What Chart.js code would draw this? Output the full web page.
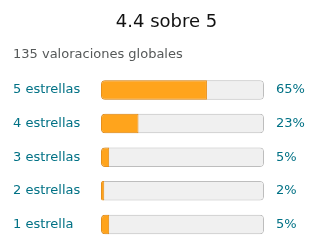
<!DOCTYPE html>
<html>
<head>
<meta charset="utf-8">
<script src="https://cdn.jsdelivr.net/npm/chart.js@4/dist/chart.umd.min.js"></script>
<style>
  html, body { margin: 0; padding: 0; background: #fff; }
  #wrap { width: 320px; height: 252px; }
</style>
</head>
<body>
<div id="wrap"><canvas id="ratings"></canvas></div>
<script>
const starLabels = ['5 estrellas', '4 estrellas', '3 estrellas', '2 estrellas', '1 estrella'];
const percents = [65, 23, 5, 2, 5];
const trackValues = [100, 100, 100, 100, 100];
const percentLabels = percents.map(p => p + '%');

const linkColor = '#007185';

const ctx = document.getElementById('ratings').getContext('2d');

const ratingsChart = new Chart(ctx, {
  type: 'bar',
  data: {
    labels: starLabels,
    datasets: [
      {
        label: 'Porcentaje',
        data: percents,
        backgroundColor: '#ffa41c',
        borderColor: '#e8901a',
        borderWidth: 1,
        borderSkipped: false,
        borderRadius: { topLeft: 4, bottomLeft: 4, topRight: 0, bottomRight: 0 },
        grouped: false,
        order: 1,
        barPercentage: 0.58,
        categoryPercentage: 1
      },
      {
        label: 'Total',
        data: trackValues,
        backgroundColor: '#f0f0f0',
        borderColor: '#bdbdbd',
        borderWidth: 1,
        borderSkipped: false,
        borderRadius: 4,
        grouped: false,
        order: 2,
        barPercentage: 0.58,
        categoryPercentage: 1
      }
    ]
  },
  options: {
    indexAxis: 'y',
    responsive: true,
    maintainAspectRatio: false,
    animation: false,
    layout: { padding: { left: 13, right: 0, top: 0, bottom: 0 } },
    plugins: {
      legend: { display: false },
      tooltip: { enabled: false },
      title: {
        display: true,
        text: '4.4 sobre 5',
        color: '#111',
        font: { family: 'DejaVu Sans', size: 18, weight: 'normal' },
        padding: { top: 12, bottom: 0 }
      },
      subtitle: {
        display: true,
        text: '135 valoraciones globales',
        align: 'start',
        color: '#565959',
        font: { family: 'DejaVu Sans', size: 13 },
        padding: { top: 13, bottom: 11 }
      }
    },
    scales: {
      x: {
        display: false,
        min: 0,
        max: 100
      },
      y: {
        position: 'left',
        grid: { display: false },
        border: { display: false },
        ticks: {
          color: linkColor,
          crossAlign: 'far',
          font: { family: 'DejaVu Sans', size: 13 }
        },
        afterFit: scale => { scale.width = 88; }
      },
      y2: {
        type: 'category',
        position: 'right',
        labels: percentLabels,
        grid: { display: false, tickLength: 9 },
        border: { display: false },
        ticks: {
          color: linkColor,
          crossAlign: 'near',
          padding: 3,
          font: { family: 'DejaVu Sans', size: 13 }
        },
        afterFit: scale => { scale.width = 56; }
      }
    }
  }
});
</script>
</body>
</html>
